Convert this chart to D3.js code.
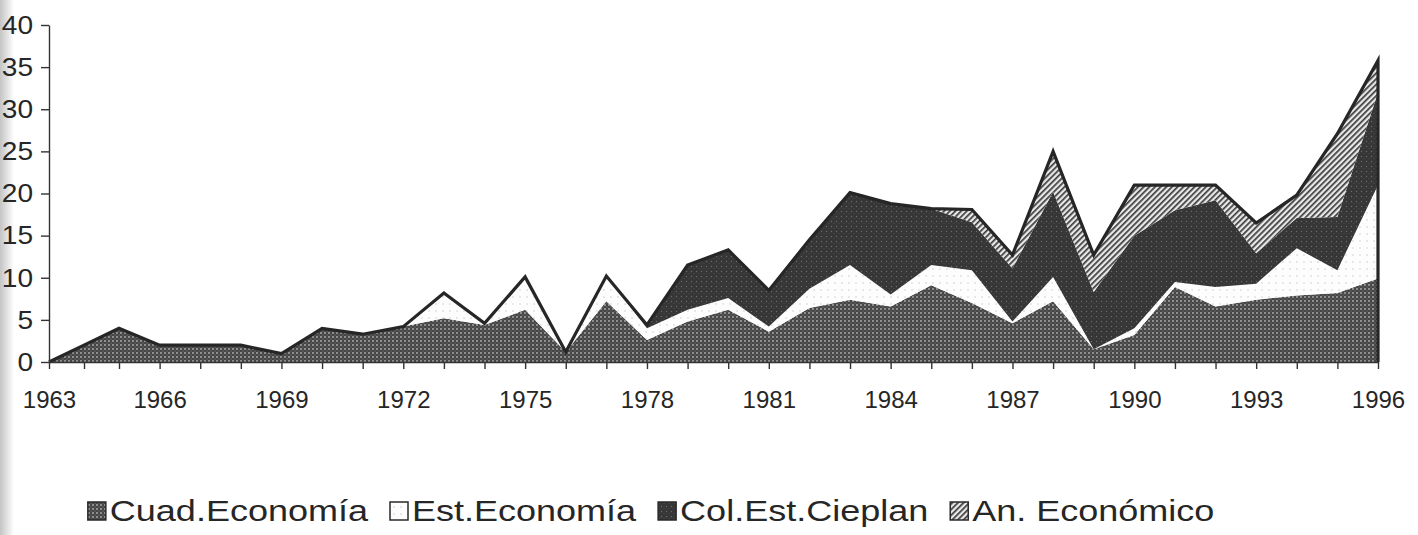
<!DOCTYPE html>
<html>
<head>
<meta charset="utf-8">
<script src="https://cdn.jsdelivr.net/npm/d3@7.9.0/dist/d3.min.js"></script>
<style>
  body { margin: 0; background: #fff; }
  svg { display: block; font-family: 'Liberation Sans', Arial, sans-serif; }
</style>
</head>
<body>
<svg id="chart" width="1418" height="535"></svg>
<script>
const years = [1963, 1964, 1965, 1966, 1967, 1968, 1969, 1970, 1971, 1972,
  1973, 1974, 1975, 1976, 1977, 1978, 1979, 1980, 1981, 1982, 1983, 1984,
  1985, 1986, 1987, 1988, 1989, 1990, 1991, 1992, 1993, 1994, 1995, 1996];

// values
const cuadEconomia = [0, 2, 4, 2, 2, 2, 1, 4, 3.3, 4.2, 5.2, 4.4, 6.2, 1.2,
  7.2, 2.6, 4.8, 6.2, 3.6, 6.4, 7.4, 6.6, 9.1, 7, 4.6, 7.2, 1.5, 3.2, 8.9,
  6.6, 7.4, 7.9, 8.2, 9.9];
const estEconomia = [0, 0, 0, 0, 0, 0, 0, 0, 0, 0, 3, 0.2, 3.9, 0, 3, 1.4,
  1.4, 1.4, 0.6, 2.3, 4.1, 1.4, 2.4, 3.9, 0.2, 2.9, 0, 0.8, 0.6, 2.3, 1.9,
  5.6, 2.7, 11.1];
const colEstCieplan = [0, 0, 0, 0, 0, 0, 0, 0, 0, 0, 0, 0, 0, 0, 0, 0.4,
  5.3, 5.7, 4.3, 5.8, 8.6, 10.8, 6.7, 5.7, 6.3, 10.1, 6.8, 11, 8.5, 10.3,
  3.6, 3.6, 6.3, 11];
const anEconomico = [0, 0, 0, 0, 0, 0, 0, 0, 0, 0, 0, 0, 0, 0, 0, 0, 0, 0,
  0, 0, 0, 0, 0, 1.5, 1.6, 4.8, 4.4, 6, 3, 1.8, 3.6, 2.7, 9.9, 3.8];

const seriesNames = ['Cuad.Economía', 'Est.Economía', 'Col.Est.Cieplan', 'An. Económico'];
const yTicks = [0, 5, 10, 15, 20, 25, 30, 35, 40];
const xLabelYears = [1963, 1966, 1969, 1972, 1975, 1978, 1981, 1984, 1987, 1990, 1993, 1996];

const keys = ['cuad', 'est', 'cieplan', 'an'];
const rows = years.map((year, i) => ({
  year,
  cuad: cuadEconomia[i],
  est: estEconomia[i],
  cieplan: colEstCieplan[i],
  an: anEconomico[i],
}));

const svg = d3.select('#chart');
const defs = svg.append('defs');

// scanned halftone fills
const pCuad = defs.append('pattern').attr('id', 'p-cuad')
  .attr('width', 4).attr('height', 4).attr('patternUnits', 'userSpaceOnUse');
pCuad.append('rect').attr('width', 4).attr('height', 4).attr('fill', '#464646');
pCuad.append('circle').attr('cx', 1).attr('cy', 1).attr('r', 0.9).attr('fill', '#b0b0b0');
pCuad.append('circle').attr('cx', 3).attr('cy', 3).attr('r', 0.6).attr('fill', '#808080');

const pEst = defs.append('pattern').attr('id', 'p-est')
  .attr('width', 7).attr('height', 7).attr('patternUnits', 'userSpaceOnUse');
pEst.append('rect').attr('width', 7).attr('height', 7).attr('fill', '#fdfdfd');
pEst.append('circle').attr('cx', 2).attr('cy', 3).attr('r', 0.7).attr('fill', '#c4c4c4');

const pCieplan = defs.append('pattern').attr('id', 'p-cieplan')
  .attr('width', 5).attr('height', 5).attr('patternUnits', 'userSpaceOnUse');
pCieplan.append('rect').attr('width', 5).attr('height', 5).attr('fill', '#363636');
pCieplan.append('circle').attr('cx', 1.5).attr('cy', 1.5).attr('r', 0.7).attr('fill', '#6c6c6c');
pCieplan.append('circle').attr('cx', 4).attr('cy', 3.5).attr('r', 0.5).attr('fill', '#555');

const pAn = defs.append('pattern').attr('id', 'p-an')
  .attr('width', 4).attr('height', 4).attr('patternUnits', 'userSpaceOnUse')
  .attr('patternTransform', 'rotate(45)');
pAn.append('rect').attr('width', 4).attr('height', 4).attr('fill', '#e8e8e8');
pAn.append('rect').attr('width', 1.7).attr('height', 4).attr('fill', '#3c3c3c');

const fills = ['url(#p-cuad)', 'url(#p-est)', 'url(#p-cieplan)', 'url(#p-an)'];

// grey shade at the left edge of the scan
const shade = defs.append('linearGradient').attr('id', 'shade');
shade.append('stop').attr('offset', 0).attr('stop-color', '#c4c4c4');
shade.append('stop').attr('offset', 1).attr('stop-color', '#ffffff');
svg.append('rect').attr('x', 0).attr('y', 0).attr('width', 14).attr('height', 535)
  .attr('fill', 'url(#shade)');

// the first two years are squeezed in the original print
const x = d3.scaleLinear().domain([1963, 1965, 1996]).range([49, 119, 1378]);
const y = d3.scaleLinear().domain([0, 40]).range([362, 25]);

const stacked = d3.stack().keys(keys)(rows);

const area = d3.area()
  .x((d) => x(d.data.year))
  .y0((d) => y(d[0]))
  .y1((d) => y(d[1]));

svg.append('g')
  .selectAll('path')
  .data(stacked)
  .join('path')
  .attr('d', area)
  .attr('fill', (d, i) => fills[i]);

// heavy outline on top of the stack
const totals = rows.map((r) => [r.year, r.cuad + r.est + r.cieplan + r.an]);
totals.push([1996, 0]);
svg.append('path')
  .attr('d', d3.line().x((d) => x(d[0])).y((d) => y(d[1]))(totals))
  .attr('fill', 'none')
  .attr('stroke', '#262626')
  .attr('stroke-width', 3.2)
  .attr('stroke-linejoin', 'miter');

// axes
const yAxis = svg.append('g')
  .attr('transform', `translate(${x(1963)},0)`)
  .call(d3.axisLeft(y).tickValues(yTicks).tickSize(8).tickSizeOuter(0).tickPadding(8));

const xAxis = svg.append('g')
  .attr('transform', `translate(0,${y(0)})`)
  .call(d3.axisBottom(x).tickValues(years).tickSize(7).tickSizeOuter(0).tickPadding(22)
    .tickFormat((d) => (xLabelYears.includes(d) ? d : '')));

[yAxis, xAxis].forEach((g) => {
  g.select('.domain').attr('stroke', '#333').attr('stroke-width', 1.4);
  g.selectAll('.tick line').attr('stroke', '#333').attr('stroke-width', 1.4);
  g.selectAll('.tick text').attr('fill', '#262626').attr('font-family', null);
});
yAxis.selectAll('.tick text')
  .attr('font-size', 26)
  .each(function () {
    const w = this.getComputedTextLength() * 1.08;
    d3.select(this).attr('textLength', w).attr('lengthAdjust', 'spacingAndGlyphs');
  });
xAxis.selectAll('.tick text').attr('font-size', 24);

// legend
const boxSize = 18;
const boxGap = 4;
const itemGap = 22;
const stretch = 1.2;
const legend = svg.append('g').attr('font-size', 30).attr('fill', '#262626');

const items = seriesNames.map((name, i) => {
  const g = legend.append('g');
  g.append('rect')
    .attr('width', boxSize).attr('height', boxSize)
    .attr('y', 502)
    .attr('fill', fills[i])
    .attr('stroke', '#2a2a2a').attr('stroke-width', 1.5);
  const t = g.append('text').attr('y', 521).text(name);
  const w = t.node().getComputedTextLength() * stretch;
  t.attr('textLength', w).attr('lengthAdjust', 'spacingAndGlyphs');
  return { g, w };
});

let cursor = 390 - itemGap - items[0].w - boxGap - boxSize;
items.forEach(({ g, w }) => {
  g.select('rect').attr('x', cursor);
  g.select('text').attr('x', cursor + boxSize + boxGap);
  cursor += boxSize + boxGap + w + itemGap;
});
</script>
</body>
</html>
